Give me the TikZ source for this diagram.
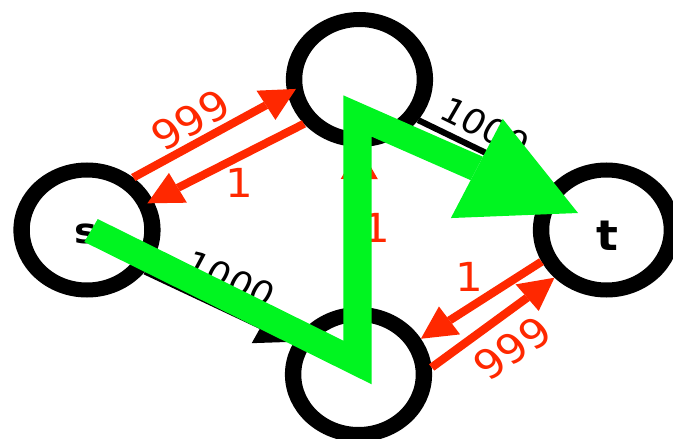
\documentclass[tikz,border=0pt]{standalone}
\usepackage{fontspec}
\setmainfont{DejaVu Sans}
\usetikzlibrary{arrows.meta}
\definecolor{redE}{RGB}{255,40,0}
\definecolor{greenP}{RGB}{0,245,32}
\begin{document}
\begin{tikzpicture}[x=1pt,y=-1pt,
  vertex/.style={circle, draw=black, line width=15pt, minimum size=120pt, inner sep=0pt},
  redge/.style={draw=redE, line width=8pt, -{Triangle[length=32pt,width=34pt,line width=0pt]}},
  bedge/.style={draw=black, line width=6pt, -{Triangle[length=34pt,width=38pt,line width=0pt]}},
  rlab/.style={text=redE, font=\fontsize{40}{48}\selectfont, inner sep=0pt},
  blab/.style={text=black, font=\fontsize{34}{40}\selectfont, inner sep=0pt},
  vlab/.style={text=black, inner sep=0pt},
  flow/.style={draw=greenP, line width=26pt, line join=miter, -{Triangle[length=103pt,width=110pt,line width=0pt]}}
]
\useasboundingbox (0,0) rectangle (673,439);
\begin{scope}[transform canvas={xscale=1.09}]
  % vertices
  \node[vertex] (s) at (79.8,230) {};
  \node[vertex] (a) at (329.8,79.5) {};
  \node[vertex] (b) at (328.9,374.5) {};
  \node[vertex] (t) at (556.4,230) {};
  \node[vlab, font=\bfseries\fontsize{35}{40}\selectfont] (slab) at (79,234) {s};
  \node[vlab, font=\bfseries\fontsize{42}{50}\selectfont] (tlab) at (557,236) {t};
  % capacity edges
  \draw[bedge] (s.-38) -- (b.151);
  \draw[bedge] (a.-37) -- (t.138);
  \draw[redge, shorten >=-9pt] (s.51) -- (a.192);
  \draw[redge, shorten >=-6pt] (a.221) -- (s.26);
  \draw[redge] (b.6) -- (t.225);
  \draw[redge] (t.208) -- (b.32);
  \draw[redge] (b.north) -- (a.south);
  % labels
  \node[rlab, rotate=31] (c1) at (174.8,120) {999};
  \node[rlab] (c2) at (219.7,182.5) {1};
  \node[blab, rotate=-26] (c3) at (211,279) {1000};
  \node[blab, rotate=-28] (c4) at (445,127) {1000};
  \node[rlab] (c5) at (345.4,228) {1};
  \node[rlab] (c6) at (430.3,276.5) {1};
  \node[rlab, rotate=37] (c7) at (470.2,348.3) {999};
  % augmenting path
  \coordinate (g0) at (83.5,230.5);
  \coordinate (g1) at (328,362.5);
  \coordinate (g2) at (328,116);
  \coordinate (g3) at (530.3,213);
  \draw[flow] (g0) -- (g1) -- (g2) -- (g3);
\end{scope}
\end{tikzpicture}
\end{document}
